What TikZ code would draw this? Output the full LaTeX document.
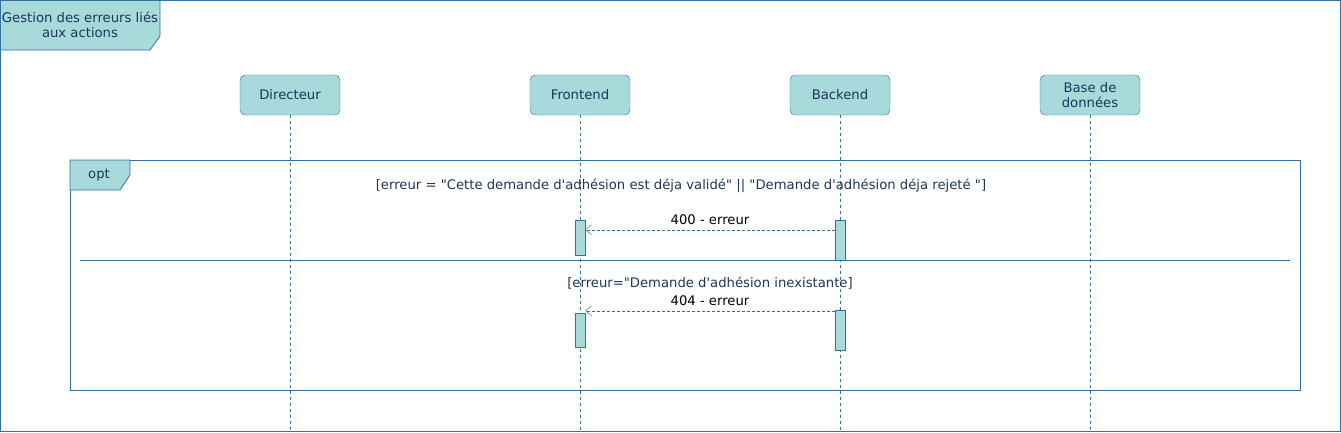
\documentclass[tikz,border=0pt]{standalone}
\usepackage{fontspec}
\setmainfont{DejaVu Sans}[Ligatures=TeXOff]
\usetikzlibrary{arrows.meta}
\definecolor{boxfill}{RGB}{168,218,220}
\definecolor{boxline}{RGB}{50,112,158}
\definecolor{txt}{RGB}{29,53,87}
\begin{document}
\begin{tikzpicture}[x=1pt, y=-1pt,
		every node/.style={font=\fontsize{13.2}{15}\selectfont, text=txt},
		actor/.style={draw=boxline, fill=boxfill, rounded corners=5pt, minimum width=100pt,
			minimum height=40pt, align=center, inner sep=2pt},
		lifeline/.style={draw=boxline, dash pattern=on 3pt off 3pt},
		activation/.style={draw=boxline, fill=boxfill, minimum width=10pt, inner sep=0pt},
		msg/.style={draw=boxline, dash pattern=on 3pt off 2pt, -{Straight Barb[length=6pt, width=10pt]}},
		msglabel/.style={text=black},
		frameline/.style={draw=boxline, thick}]
		\useasboundingbox (0,0) rectangle (1341,432);
		% cadre principal
		\draw[frameline] (0.5,0.5) rectangle (1340.5,431.5);
		\draw[frameline, fill=boxfill] (0.5,0.5) -- (160,0.5) -- (160,36) -- (150,50) -- (0.5,50) -- cycle;
		\node[align=center] (title) at (80,25) {Gestion des erreurs liés\\aux actions};
		
		% participants
		\node[actor] (dir) at (290,95) {Directeur};
		\node[actor] (front) at (580,95) {Frontend};
		\node[actor] (back) at (840,95) {Backend};
		\node[actor] (bdd) at (1090,95) {Base de\\données};
		\coordinate (dirend) at (290,432);
		\coordinate (frontend) at (580,432);
		\coordinate (backend) at (840,432);
		\coordinate (bddend) at (1090,432);
		\draw[lifeline] (dir.south) -- (dirend);
		\draw[lifeline] (front.south) -- (frontend);
		\draw[lifeline] (back.south) -- (backend);
		\draw[lifeline] (bdd.south) -- (bddend);
		
		% fragment opt
		\draw[frameline] (70,160) rectangle (1300,390);
		\draw[frameline, fill=boxfill] (70,160) -- (130,160) -- (130,175) -- (120,190) -- (70,190) -- cycle;
		\node (opt) at (99,175) {opt};
		\node (guard1) at (681,186) {[erreur = "Cette demande d'adhésion est déja validé" || "Demande d'adhésion déja rejeté "]};
		\coordinate (sepL) at (80,260);
		\coordinate (sepR) at (1290,260);
		\draw[draw=boxline] (sepL) -- (sepR);
		\node (guard2) at (710,283) {[erreur="Demande d'adhésion inexistante]};
		
		% activations
		\node[activation, minimum height=35pt] (f1) at (580,237.5) {};
		\node[activation, minimum height=40pt] (b1) at (840,240) {};
		\node[activation, minimum height=34pt] (f2) at (580,330) {};
		\node[activation, minimum height=40pt] (b2) at (840,330) {};
		
		% messages
		\draw[msg] ([yshift=-10pt]b1.north west) -- ([yshift=-10pt]b1.north west -| f1.east)
			node[msglabel, midway, above=2pt] {400 - erreur};
		\draw[msg] ([yshift=-1pt]b2.north west) -- ([yshift=-1pt]b2.north west -| f2.east)
			node[msglabel, midway, above=2pt] {404 - erreur};
	\end{tikzpicture}
\end{document}
